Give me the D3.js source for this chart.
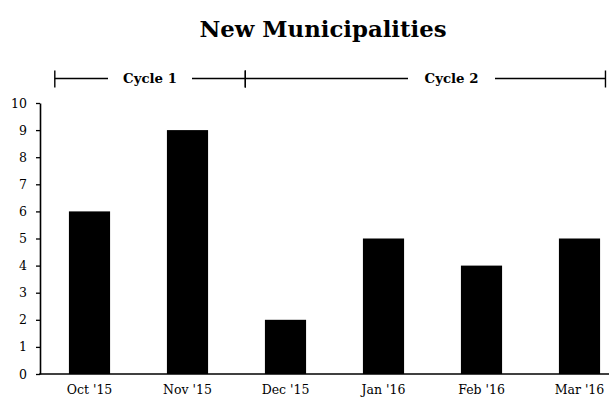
<!DOCTYPE html>
<html>
<head>
<meta charset="utf-8">
<script src="https://cdn.jsdelivr.net/npm/d3@7"></script>
<style>
  html, body { margin: 0; padding: 0; background: #fff; overflow: hidden; }
  svg { display: block; }
  text { font-family: Georgia, "DejaVu Serif", serif; fill: #000; }
</style>
</head>
<body>
<svg id="chart" width="640" height="403"></svg>
<script>
const categories = ["Oct '15", "Nov '15", "Dec '15", "Jan '16", "Feb '16", "Mar '16"];
const values = [6, 9, 2, 5, 4, 5];
const yTicks = [0, 1, 2, 3, 4, 5, 6, 7, 8, 9, 10];
const cycles = [
  { label: "Cycle 1", from: "Oct '15", to: "Dec '15" },
  { label: "Cycle 2", from: "Dec '15", to: "Mar '16" }
];

const svg = d3.select("#chart");
const plotRight = 628.5;

const x = d3.scaleBand().domain(categories)
  .range([40.5, plotRight]).paddingInner(0.58).paddingOuter(0.29);
const y = d3.scaleLinear().domain([0, 10]).range([374, 103]);

// title
svg.append("text").attr("x", 323).attr("y", 37)
  .attr("text-anchor", "middle").attr("font-weight", "bold")
  .attr("font-size", 22.8).text("New Municipalities");

// bars
svg.append("g").selectAll("rect").data(values).join("rect")
  .attr("x", (d, i) => x(categories[i]))
  .attr("y", d => y(d))
  .attr("width", x.bandwidth())
  .attr("height", d => y(0) - y(d))
  .attr("fill", "#000");

// y axis
const yAxis = svg.append("g").attr("transform", "translate(40,0)")
  .call(d3.axisLeft(y).tickValues(yTicks).tickSize(4).tickSizeOuter(0).tickPadding(9));
yAxis.select(".domain").attr("stroke", "#000").attr("stroke-width", 1.6);
yAxis.selectAll(".tick line").attr("stroke", "#000").attr("stroke-width", 1.3);
yAxis.selectAll(".tick text").attr("font-size", 12.5).attr("font-family", 'Georgia, "DejaVu Serif", serif');

// x axis
const xAxis = svg.append("g").attr("transform", "translate(0,374)")
  .call(d3.axisBottom(x).tickSize(0).tickSizeOuter(0).tickPadding(11));
xAxis.select(".domain").attr("d", `M39.2,0H${plotRight}`).attr("stroke", "#000").attr("stroke-width", 1.6);
xAxis.selectAll(".tick text").attr("font-size", 12.5).attr("font-family", 'Georgia, "DejaVu Serif", serif');

// cycle brackets
const step = x.step();
const by = 78.5;
const bx = [
  [x(cycles[0].from) - x.paddingOuter() * step + 0.146 * step, x(cycles[0].to) - x.paddingOuter() * step + 0.09 * step],
  [x(cycles[1].from) - x.paddingOuter() * step + 0.09 * step, x(cycles[1].to) + x.bandwidth() + x.paddingOuter() * step - 0.235 * step]
];
const gaps = [[108, 192], [408, 495]];
const br = svg.append("g").attr("stroke", "#000").attr("stroke-width", 1.4);
cycles.forEach((c, i) => {
  const [a, b] = bx[i];
  const mid = (gaps[i][0] + gaps[i][1]) / 2;
  br.append("line").attr("x1", a).attr("x2", gaps[i][0]).attr("y1", by).attr("y2", by);
  br.append("line").attr("x1", gaps[i][1]).attr("x2", b).attr("y1", by).attr("y2", by);
  br.append("line").attr("x1", a).attr("x2", a).attr("y1", by - 8).attr("y2", by + 9);
  br.append("line").attr("x1", b).attr("x2", b).attr("y1", by - 8).attr("y2", by + 9);
  svg.append("text").attr("x", mid).attr("y", by + 4.5)
    .attr("text-anchor", "middle").attr("font-weight", "bold")
    .attr("font-size", 13.3).text(c.label);
});
</script>
</body>
</html>
